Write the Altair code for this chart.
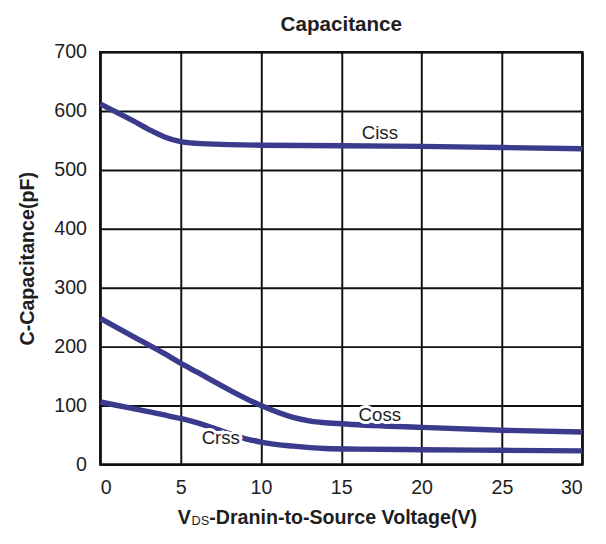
import altair as alt
import pandas as pd

ciss_x = [0, 1, 2, 3, 4, 5, 6, 8, 10, 15, 20, 25, 30]
ciss_y = [612, 598, 584, 569, 556, 548, 545, 543, 542, 541, 540, 538, 536]
coss_x = [0, 2, 4, 5, 6, 8, 10, 12, 13, 15, 20, 25, 30]
coss_y = [248, 218, 188, 172, 157, 127, 100, 80, 74, 69, 63, 58, 55]
crss_x = [0, 2, 4, 5, 6, 9, 10, 12, 14, 16, 20, 25, 30]
crss_y = [106, 95, 84, 78, 71, 44, 38, 31, 27, 26, 25, 24, 23]

label_names = ["Ciss", "Coss", "Crss"]
label_x = [17.4, 17.4, 7.5]
label_y = [563, 84, 45]

rows = []
for name, xs, ys in [("Ciss", ciss_x, ciss_y), ("Coss", coss_x, coss_y), ("Crss", crss_x, crss_y)]:
    for a, b in zip(xs, ys):
        rows.append({"series": name, "v": a, "c": b})
df = pd.DataFrame(rows)
lab = pd.DataFrame({"name": label_names, "v": label_x, "c": label_y})

W, H = 491, 420
LINE = "#3b3b8e"
FONT = "Liberation Sans"
INK = "#1e1e1e"

xs = alt.Scale(domain=[0, 30], nice=False)
ys = alt.Scale(domain=[0, 700], nice=False)

xax = alt.Axis(values=[0, 5, 10, 15, 20, 25, 30], title=None, labelPadding=14)
yax = alt.Axis(values=list(range(0, 701, 100)), title="C-Capacitance(pF)",
               labelPadding=14, titlePadding=17)

lines = alt.Chart(df).mark_line(color=LINE, strokeWidth=5.5, interpolate="monotone").encode(
    x=alt.X("v:Q", scale=xs, axis=xax),
    y=alt.Y("c:Q", scale=ys, axis=yax),
    detail="series:N",
)

halo = alt.Chart(lab).mark_text(fontSize=19, font=FONT, stroke="white", strokeWidth=6,
                                 color="white").encode(
    x=alt.X("v:Q", scale=xs), y=alt.Y("c:Q", scale=ys), text="name:N")
txt = alt.Chart(lab).mark_text(fontSize=19, font=FONT, color=INK).encode(
    x=alt.X("v:Q", scale=xs), y=alt.Y("c:Q", scale=ys), text="name:N")

t1 = alt.Chart(pd.DataFrame({"t": ["V"]})).mark_text(
    font=FONT, fontSize=20, fontWeight="bold", color=INK, align="left", baseline="alphabetic"
).encode(x=alt.value(79), y=alt.value(H + 61), text="t:N")
t2 = alt.Chart(pd.DataFrame({"t": ["DS"]})).mark_text(
    font=FONT, fontSize=13, fontWeight="normal", color=INK, align="left", baseline="alphabetic"
).encode(x=alt.value(93), y=alt.value(H + 62), text="t:N")
t3 = alt.Chart(pd.DataFrame({"t": ["-Dranin-to-Source Voltage(V)"]})).mark_text(
    font=FONT, fontSize=20, fontWeight="bold", color=INK, align="left", baseline="alphabetic"
).encode(x=alt.value(111), y=alt.value(H + 61), text="t:N")

chart = alt.layer(lines, halo, txt, t1, t2, t3).properties(
    width=W, height=H,
    title=alt.TitleParams("Capacitance", fontSize=21, font=FONT, fontWeight="bold",
                          color=INK, offset=8),
    padding={"left": 9, "top": 1, "right": 5, "bottom": 5},
).configure_view(stroke="#111", strokeWidth=2.5).configure_axis(
    grid=True, gridColor="#111", gridWidth=2, gridOpacity=1, ticks=False, domain=False,
    labelFontSize=20, labelColor=INK, labelFont=FONT,
    titleFontSize=20, titleFont=FONT, titleFontWeight="bold", titleColor=INK,
)

chart.save("out.html", embed_options={"renderer": "svg", "actions": False})
